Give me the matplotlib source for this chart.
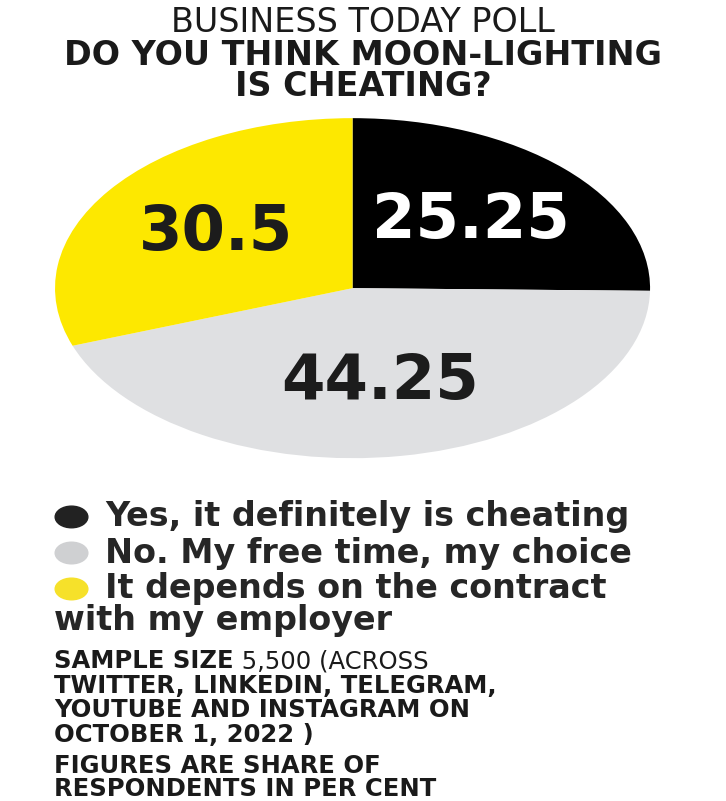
"""Business Today poll: is moon-lighting cheating? (pie chart)"""
import matplotlib.pyplot as plt
from matplotlib.patches import Ellipse


# %% Daten
answers = ['Yes, it definitely is cheating',
           'No. My free time, my choice',
           'It depends on the contract\nwith my employer']
shares = [25.25, 44.25, 30.5]
colors = ['#000000', '#dfe0e2', '#fde800']
label_colors = ['white', '#1c1c1c', '#1c1c1c']
marker_colors = ['#222222', '#cfd0d2', '#f6e12a']

title_1 = 'BUSINESS TODAY POLL'
title_2 = ['DO YOU THINK MOON-LIGHTING', 'IS CHEATING?']
note_lines = ['(ACROSS', 'TWITTER, LINKEDIN, TELEGRAM,',
              'YOUTUBE AND INSTAGRAM ON', 'OCTOBER 1, 2022 )']
sample_size = '5,500'
footer = ['FIGURES ARE SHARE OF', 'RESPONDENTS IN PER CENT']

plt.rcParams['font.family'] = ['DejaVu Sans']
ink = '#1a1a1a'

# %% Figur
fig = plt.figure(figsize=(7.26, 8.01), dpi=100)
fig.patch.set_facecolor('white')

# Titel
fig.text(0.5, 0.972, title_1, ha='center', va='center', fontsize=24,
         color=ink)
for line, y in zip(title_2, [0.931, 0.892]):
    fig.text(0.5, y, line, ha='center', va='center', fontsize=24,
             fontweight='heavy', color=ink)

# Kreisdiagramm (als Ellipse gestreckt)
ax = fig.add_axes([0.0758, 0.428, 0.8196, 0.4245])
total = sum(shares)
wedges, texts, autotexts = ax.pie(
    shares, colors=colors, startangle=90, counterclock=False,
    autopct=lambda p: f'{round(p * total / 100, 2):g}', pctdistance=0.56,
    wedgeprops=dict(linewidth=0))
for t, c in zip(autotexts, label_colors):
    t.set_color(c)
    t.set_fontsize(45)
    t.set_fontweight('heavy')
ax.set_aspect('auto')
ax.set_xlim(-1, 1)
ax.set_ylim(-1, 1)

# Legende
legend_y = [0.3546, 0.3096, 0.2647]
for answer, col, y in zip(answers, marker_colors, legend_y):
    fig.patches.append(Ellipse((0.0985, y), 0.045, 0.027, color=col,
                               transform=fig.transFigure, figure=fig))
    first, *rest = answer.split('\n')
    fig.text(0.145, y, first, ha='left', va='center', fontsize=24,
             fontweight='bold', color='#262626')
    for i, line in enumerate(rest, start=1):
        fig.text(0.075, y - i * 0.0395, line, ha='left', va='center',
                 fontsize=24, fontweight='bold', color='#262626')

# Hinweise
note_size = 17.5
t = fig.text(0.075, 0.166, 'SAMPLE SIZE', ha='left', va='baseline',
             fontsize=note_size, fontweight='heavy', color=ink)
ax.annotate(' ' + sample_size + ' ' + note_lines[0], xy=(1, 0),
            xycoords=t, ha='left', va='bottom', fontsize=note_size,
            color=ink, annotation_clip=False)
note_y = [0.135, 0.105, 0.074]
for line, y in zip(note_lines[1:], note_y):
    fig.text(0.075, y, line, ha='left', va='baseline', fontsize=note_size,
             fontweight='semibold', color=ink)
for line, y in zip(footer, [0.035, 0.006]):
    fig.text(0.075, y, line, ha='left', va='baseline', fontsize=note_size,
             fontweight='semibold', color=ink)

fig.savefig('out.png', dpi=100)
